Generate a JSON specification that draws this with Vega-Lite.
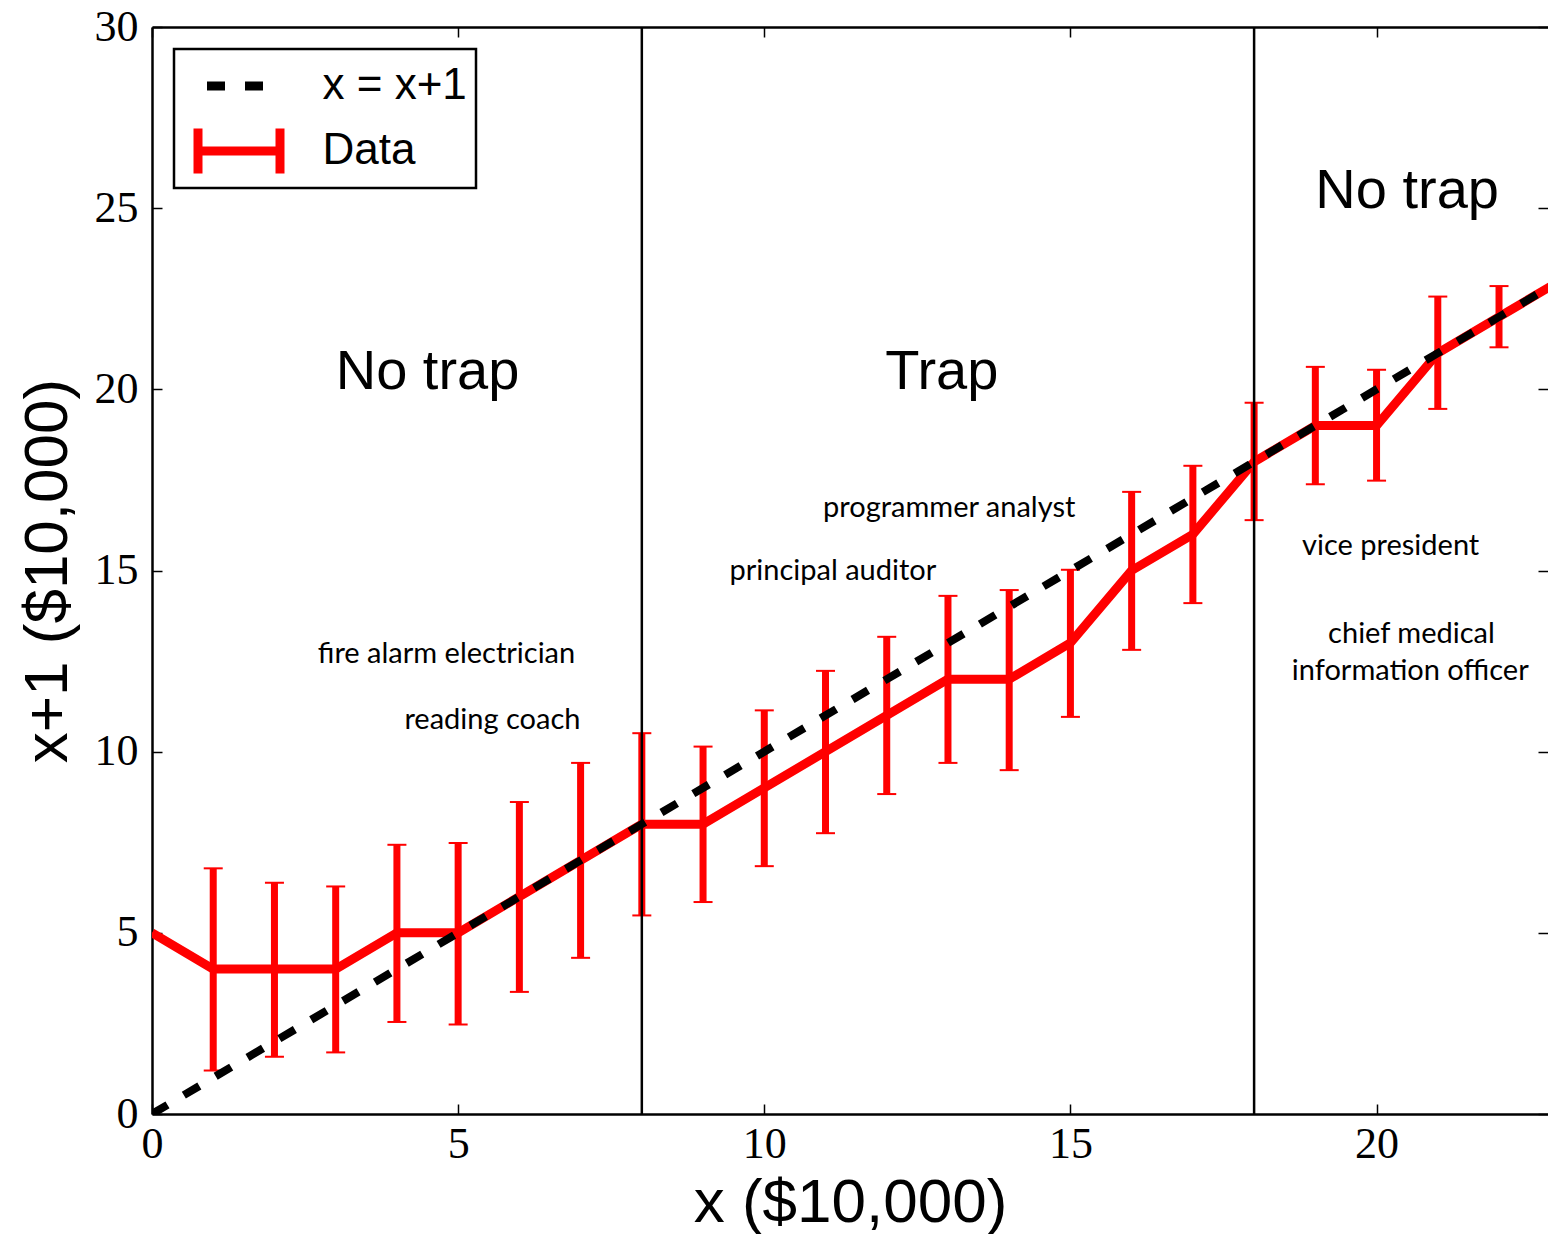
{
  "$schema": "https://vega.github.io/schema/vega-lite/v6.json",
  "width": 1396,
  "height": 1087,
  "autosize": {"type": "none"},
  "padding": {"left": 152, "top": 27, "right": 0, "bottom": 120},
  "background": "white",
  "config": {
    "view": {"stroke": null},
    "axis": {
      "grid": false,
      "domainColor": "black",
      "domainWidth": 2.5,
      "tickColor": "black",
      "tickWidth": 1.5,
      "tickSize": -10,
      "labelFlush": false,
      "labelFont": "Liberation Serif",
      "labelFontSize": 44,
      "labelColor": "black",
      "titleFont": "Liberation Sans",
      "titleFontSize": 62,
      "titleFontWeight": "normal",
      "titleColor": "black"
    },
    "legend": {
      "orient": "top-left",
      "offset": 22,
      "padding": 9,
      "strokeColor": "black",
      "strokeWidth": 2.5,
      "fillColor": "white",
      "symbolSize": 1600,
      "symbolStrokeWidth": 9,
      "symbolOffset": 31.5,
      "labelOffset": 59,
      "labelFont": "Liberation Sans",
      "labelFontSize": 44,
      "labelColor": "black",
      "labelLimit": 400,
      "clipHeight": 56,
      "rowPadding": 9
    }
  },
  "datasets": {
    "points": [
      {"x": 0, "y": 5, "series": "Data"},
      {"x": 1, "y": 4, "lo": 1.2, "hi": 6.78, "series": "Data"},
      {"x": 2, "y": 4, "lo": 1.58, "hi": 6.38, "series": "Data"},
      {"x": 3, "y": 4, "lo": 1.7, "hi": 6.28, "series": "Data"},
      {"x": 4, "y": 5, "lo": 2.54, "hi": 7.43, "series": "Data"},
      {"x": 5, "y": 5, "lo": 2.47, "hi": 7.48, "series": "Data"},
      {"x": 6, "y": 6, "lo": 3.37, "hi": 8.61, "series": "Data"},
      {"x": 7, "y": 7, "lo": 4.31, "hi": 9.69, "series": "Data"},
      {"x": 8, "y": 8, "lo": 5.48, "hi": 10.51, "series": "Data"},
      {"x": 9, "y": 8, "lo": 5.85, "hi": 10.14, "series": "Data"},
      {"x": 10, "y": 9, "lo": 6.84, "hi": 11.14, "series": "Data"},
      {"x": 11, "y": 10, "lo": 7.75, "hi": 12.23, "series": "Data"},
      {"x": 12, "y": 11, "lo": 8.83, "hi": 13.17, "series": "Data"},
      {"x": 13, "y": 12, "lo": 9.69, "hi": 14.3, "series": "Data"},
      {"x": 14, "y": 12, "lo": 9.49, "hi": 14.46, "series": "Data"},
      {"x": 15, "y": 13, "lo": 10.96, "hi": 15.02, "series": "Data"},
      {"x": 16, "y": 15, "lo": 12.81, "hi": 17.17, "series": "Data"},
      {"x": 17, "y": 16, "lo": 14.1, "hi": 17.89, "series": "Data"},
      {"x": 18, "y": 18, "lo": 16.39, "hi": 19.63, "series": "Data"},
      {"x": 19, "y": 19, "lo": 17.38, "hi": 20.62, "series": "Data"},
      {"x": 20, "y": 19, "lo": 17.48, "hi": 20.54, "series": "Data"},
      {"x": 21, "y": 21, "lo": 19.46, "hi": 22.56, "series": "Data"},
      {"x": 22, "y": 22, "lo": 21.16, "hi": 22.85, "series": "Data"},
      {"x": 23, "y": 23, "series": "Data"}
    ],
    "identity": [
      {"x": 0, "y": 0, "series": "x = x+1"},
      {"x": 23, "y": 23, "series": "x = x+1"}
    ],
    "boundaries": [{"x": 8}, {"x": 18}],
    "regions": [
      {"x": 4.5, "y": 20, "text": "No trap"},
      {"x": 12.9, "y": 20, "text": "Trap"},
      {"x": 20.5, "y": 25, "text": "No trap"}
    ],
    "jobs": [
      {"x": 13.02, "y": 16.49, "text": "programmer analyst"},
      {"x": 11.12, "y": 14.74, "text": "principal auditor"},
      {"x": 4.81, "y": 12.44, "text": "fire alarm electrician"},
      {"x": 5.56, "y": 10.63, "text": "reading coach"},
      {"x": 20.23, "y": 15.43, "text": "vice president"},
      {"x": 20.57, "y": 12.99, "text": "chief medical"},
      {"x": 20.55, "y": 11.98, "text": "information officer"}
    ]
  },
  "layer": [
    {
      "data": {"name": "points"},
      "mark": {"type": "line", "color": "red", "strokeWidth": 9, "strokeJoin": "round", "clip": true},
      "encoding": {
        "x": {"field": "x", "type": "quantitative", "scale": {"domain": [0, 22.8], "nice": false, "zero": false},
              "axis": {"orient": "top", "labels": false, "title": null, "values": [0, 5, 10, 15, 20], "domain": true}},
        "y": {"field": "y", "type": "quantitative", "scale": {"domain": [0, 30], "nice": false, "zero": false},
              "axis": {"orient": "right", "labels": false, "title": null, "values": [0, 5, 10, 15, 20, 25, 30], "domain": false}}
      }
    },
    {
      "data": {"name": "points"},
      "mark": {"type": "rule", "color": "red", "strokeWidth": 7},
      "encoding": {
        "x": {"field": "x", "type": "quantitative", "axis": null},
        "y": {"field": "lo", "type": "quantitative", "axis": null},
        "y2": {"field": "hi"}
      }
    },
    {
      "data": {"name": "points"},
      "mark": {"type": "tick", "orient": "horizontal", "size": 19, "thickness": 2, "color": "red", "opacity": 1},
      "encoding": {
        "x": {"field": "x", "type": "quantitative", "axis": null},
        "y": {"field": "lo", "type": "quantitative", "axis": null}
      }
    },
    {
      "data": {"name": "points"},
      "mark": {"type": "tick", "orient": "horizontal", "size": 19, "thickness": 2, "color": "red", "opacity": 1},
      "encoding": {
        "x": {"field": "x", "type": "quantitative", "axis": null},
        "y": {"field": "hi", "type": "quantitative", "axis": null}
      }
    },
    {
      "data": {"name": "identity"},
      "mark": {"type": "line", "color": "black", "strokeWidth": 8, "strokeDash": [18, 19], "clip": true},
      "encoding": {
        "x": {"field": "x", "type": "quantitative",
              "axis": {"orient": "bottom", "title": "x ($10,000)", "values": [0, 5, 10, 15, 20], "labelPadding": 18, "titlePadding": 6, "domain": true}},
        "y": {"field": "y", "type": "quantitative",
              "axis": {"orient": "left", "title": "x+1 ($10,000)", "values": [0, 5, 10, 15, 20, 25, 30], "labelPadding": 24, "titlePadding": 15, "domain": true}}
      }
    },
    {
      "data": {"name": "boundaries"},
      "mark": {"type": "rule", "color": "black", "strokeWidth": 2.5},
      "encoding": {
        "x": {"field": "x", "type": "quantitative", "axis": null}
      }
    },
    {
      "data": {"name": "identity"},
      "mark": {"type": "point", "filled": false, "opacity": 0, "strokeWidth": 9, "clip": true},
      "encoding": {
        "x": {"field": "x", "type": "quantitative", "axis": null},
        "y": {"field": "y", "type": "quantitative", "axis": null},
        "color": {"field": "series", "type": "nominal",
                  "scale": {"domain": ["x = x+1", "Data"], "range": ["black", "red"]},
                  "legend": {"title": null}},
        "shape": {"field": "series", "type": "nominal",
                  "scale": {"domain": ["x = x+1", "Data"], "range": ["M-1.6,0H-0.7M0.3,0H1.2", "M-2.05,0H2.05M-2.05,-1.12V1.12M2.05,-1.12V1.12"]},
                  "legend": {"title": null}}
      }
    },
    {
      "data": {"name": "points"},
      "mark": {"type": "point", "filled": false, "opacity": 0, "strokeWidth": 9, "clip": true},
      "encoding": {
        "x": {"field": "x", "type": "quantitative", "axis": null},
        "y": {"field": "y", "type": "quantitative", "axis": null},
        "color": {"field": "series", "type": "nominal", "legend": {"title": null}},
        "shape": {"field": "series", "type": "nominal", "legend": {"title": null}}
      }
    },
    {
      "data": {"name": "regions"},
      "mark": {"type": "text", "font": "Liberation Sans", "fontSize": 56, "align": "center", "baseline": "alphabetic", "color": "black"},
      "encoding": {
        "x": {"field": "x", "type": "quantitative", "axis": null},
        "y": {"field": "y", "type": "quantitative", "axis": null},
        "text": {"field": "text"}
      }
    },
    {
      "data": {"name": "jobs"},
      "mark": {"type": "text", "font": "Lato", "fontSize": 29, "align": "center", "baseline": "alphabetic", "color": "black"},
      "encoding": {
        "x": {"field": "x", "type": "quantitative", "axis": null},
        "y": {"field": "y", "type": "quantitative", "axis": null},
        "text": {"field": "text"}
      }
    }
  ],
  "resolve": {"axis": {"x": "independent", "y": "independent"}}
}
